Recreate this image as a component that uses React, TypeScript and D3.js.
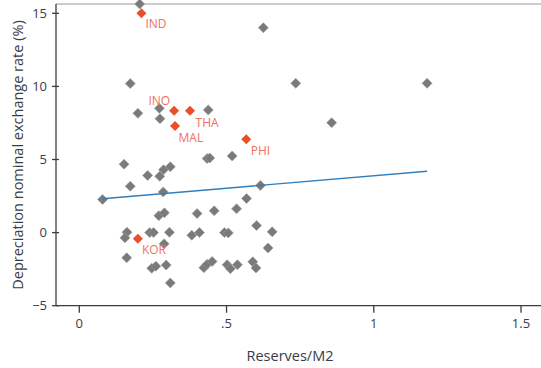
import { useEffect, useRef } from 'react';
import * as d3 from 'd3';

// grey countries: reserves/M2 vs depreciation (%)
const otherX = [
    0.205, 0.625, 0.173, 0.735, 1.181, 0.199, 0.272, 0.274, 0.438, 0.857,
    0.152, 0.173, 0.232, 0.273, 0.286, 0.309, 0.285, 0.434, 0.443, 0.519,
    0.615, 0.568, 0.079, 0.270, 0.289, 0.400, 0.458, 0.534, 0.602, 0.655,
    0.162, 0.155, 0.239, 0.252, 0.306, 0.288, 0.382, 0.408, 0.493, 0.506,
    0.641, 0.161, 0.246, 0.260, 0.295, 0.309, 0.423, 0.434, 0.451, 0.502,
    0.513, 0.537, 0.589, 0.600,
];
const otherY = [
    15.64, 14.02, 10.19, 10.21, 10.21, 8.16, 8.5, 7.79, 8.39, 7.52,
    4.68, 3.17, 3.91, 3.85, 4.3, 4.5, 2.78, 5.06, 5.1, 5.24,
    3.23, 2.33, 2.27, 1.16, 1.35, 1.3, 1.49, 1.63, 0.48, 0.05,
    0.03, -0.36, 0.0, 0.0, 0.02, -0.77, -0.18, 0.0, 0.0, -0.02,
    -1.05, -1.72, -2.44, -2.3, -2.22, -3.44, -2.4, -2.17, -1.97, -2.2,
    -2.47, -2.2, -2.0, -2.42,
];

// highlighted crisis countries
const crisisNames = ['IND', 'INO', 'THA', 'MAL', 'PHI', 'KOR'];
const crisisX = [0.211, 0.322, 0.376, 0.325, 0.567, 0.199];
const crisisY = [15.0, 8.34, 8.34, 7.29, 6.38, -0.42];

// fitted line endpoints
const fitX = [0.079, 1.181];
const fitY = [2.32, 4.2];

const xTicks = [0, 0.5, 1, 1.5];
const xTickLabels = ['0', '.5', '1', '1.5'];
const yTicks = [-5, 0, 5, 10, 15];

export default function App() {
    const svgRef = useRef<SVGSVGElement>(null);

    useEffect(() => {
        if (!svgRef.current) return;
        const W = 541, H = 368;
        const axisX = 56, top = 4, bottom = 305.7;
        const font = '"Open Sans", sans-serif';
        const ink = '#3b3b45';

        const x = d3.scaleLinear().domain([0, 1.5]).range([79.3, 521]);
        const y = d3.scaleLinear().domain([-5, 15]).range([305.7, 13.3]);

        const svg = d3.select(svgRef.current);
        svg.selectAll('*').remove();
        svg.attr('width', W).attr('height', H);

        // frame: grey top rule, dark left + bottom axes
        svg.append('line').attr('x1', axisX).attr('x2', W).attr('y1', top).attr('y2', top)
            .attr('stroke', '#9a9a9a').attr('stroke-width', 1.2);
        svg.append('line').attr('x1', axisX).attr('x2', axisX).attr('y1', top).attr('y2', bottom)
            .attr('stroke', ink).attr('stroke-width', 1.3);
        svg.append('line').attr('x1', axisX).attr('x2', W).attr('y1', bottom).attr('y2', bottom)
            .attr('stroke', ink).attr('stroke-width', 1.3);

        // y ticks cross the axis
        const yg = svg.append('g');
        yg.selectAll('line').data(yTicks).join('line')
            .attr('x1', axisX - 4).attr('x2', axisX + 3)
            .attr('y1', d => y(d)).attr('y2', d => y(d))
            .attr('stroke', ink).attr('stroke-width', 1.3);
        yg.selectAll('text').data(yTicks).join('text')
            .attr('x', axisX - 9).attr('y', d => y(d) + 4.5)
            .attr('text-anchor', 'end').attr('font-family', font).attr('font-size', 13)
            .attr('fill', ink)
            .text(d => (d < 0 ? '\u2212' + Math.abs(d) : String(d)));

        // x ticks hang below
        const xg = svg.append('g');
        xg.selectAll('line').data(xTicks).join('line')
            .attr('x1', d => x(d)).attr('x2', d => x(d))
            .attr('y1', bottom).attr('y2', bottom + 7)
            .attr('stroke', ink).attr('stroke-width', 1.3);
        xg.selectAll('text').data(xTicks).join('text')
            .attr('x', d => x(d)).attr('y', 328)
            .attr('text-anchor', 'middle').attr('font-family', font).attr('font-size', 13)
            .attr('fill', ink)
            .text((_, i) => xTickLabels[i]);

        // axis titles
        svg.append('text')
            .attr('x', 290).attr('y', 361)
            .attr('text-anchor', 'middle').attr('font-family', font).attr('font-size', 14.5)
            .attr('fill', ink).text('Reserves/M2');
        svg.append('text')
            .attr('transform', `translate(23,155) rotate(-90)`)
            .attr('text-anchor', 'middle').attr('font-family', font).attr('font-size', 14.5)
            .attr('fill', ink).text('Depreciation nominal exchange rate (%)');

        const diamond = d3.symbol(d3.symbolSquare, 50)();

        // grey points
        svg.append('g').selectAll('path').data(otherX).join('path')
            .attr('d', diamond)
            .attr('transform', (d, i) => `translate(${x(d)},${y(otherY[i])}) rotate(45)`)
            .attr('fill', '#7a7a7a').attr('stroke', '#9a9a9a').attr('stroke-width', 0.6);

        // fit line
        const line = d3.line<number>().x(d => x(d)).y((_, i) => y(fitY[i]));
        svg.append('path').datum(fitX).attr('d', line)
            .attr('fill', 'none').attr('stroke', '#2f7fbf').attr('stroke-width', 1.4);

        // crisis points
        svg.append('g').selectAll('path').data(crisisX).join('path')
            .attr('d', diamond)
            .attr('transform', (d, i) => `translate(${x(d)},${y(crisisY[i])}) rotate(45)`)
            .attr('fill', '#e8502a');

        const labelOffset: Record<string, [number, number, string]> = {
            IND: [4, 15, 'start'], INO: [-4, -6, 'end'], THA: [5.5, 16, 'start'],
            MAL: [3.5, 15.5, 'start'], PHI: [4.5, 16, 'start'], KOR: [4, 15, 'start'],
        };
        svg.append('g').selectAll('text').data(crisisNames).join('text')
            .attr('x', (d, i) => x(crisisX[i]) + labelOffset[d][0])
            .attr('y', (d, i) => y(crisisY[i]) + labelOffset[d][1])
            .attr('text-anchor', d => labelOffset[d][2])
            .attr('font-family', font).attr('font-size', 12)
            .attr('fill', '#f07060')
            .text(d => d);
    }, []);

    return (
        <div style={{ position: 'absolute', left: 0, top: 0, background: '#fff' }}>
            <svg ref={svgRef} />
        </div>
    );
}
